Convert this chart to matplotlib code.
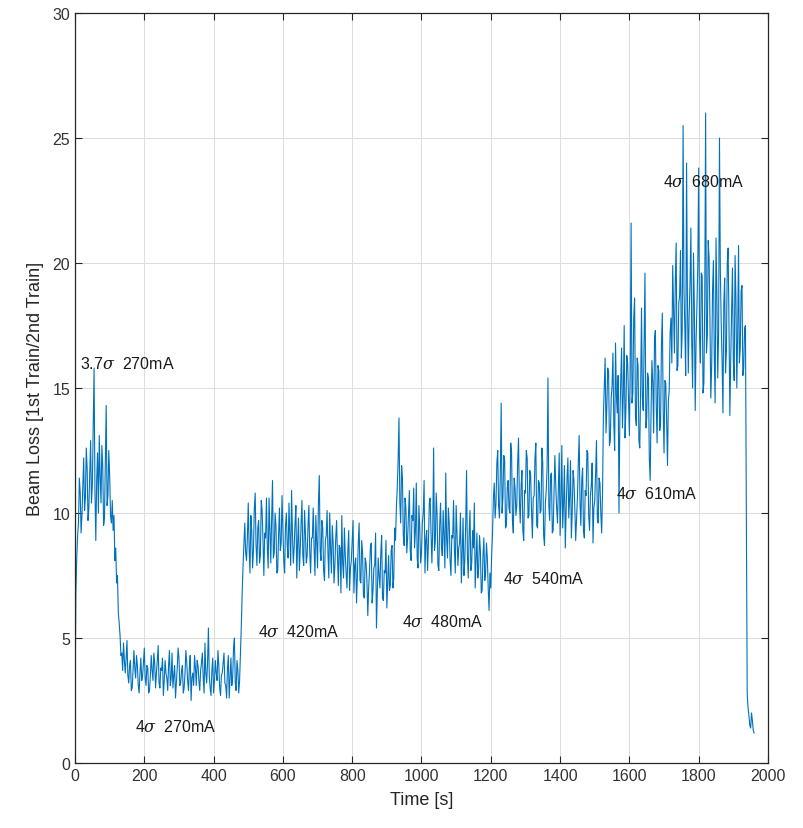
import numpy as np
import matplotlib
matplotlib.use("Agg")
import matplotlib.pyplot as plt

plt.rcParams['font.family'] = ['Liberation Sans', 'DejaVu Sans']
plt.rcParams['mathtext.fontset'] = 'dejavuserif'

# Sample step of the read-off series (seconds) and start time of each segment
t_step = 2.5
seg_t0 = [0, 110, 145, 480, 495, 930, 1200, 1220, 1525, 1720, 1940]

# 3.7 sigma 270 mA
seg_a = [2.3, 6.8, 8.2, 9.1, 9.6, 11.4, 10.8, 9.2, 9.9, 11.0, 12.2, 10.1, 10.6, 12.6,
         11.8, 9.7, 10.2, 11.6, 12.9, 10.4, 11.1, 13.4, 15.8, 10.9, 8.9, 11.3, 12.4,
         10.0, 13.1, 11.5, 10.4, 12.7, 11.9, 9.5, 9.8, 12.1, 14.3, 10.3, 10.7, 12.5,
         11.5, 9.9, 9.6, 10.5]
# drop
seg_b = [9.3, 9.9, 8.1, 8.6, 7.2, 7.5, 6.0, 5.6, 5.1, 4.3, 4.4, 3.7, 4.8, 4.1]
# 4 sigma 270 mA
seg_c = [3.6, 4.2, 4.9, 3.5, 3.2, 3.9, 4.1, 2.9, 3.0, 3.7, 4.5, 3.8, 3.4, 4.3, 3.9, 3.1,
         2.8, 3.6, 4.2, 3.3, 3.5, 4.0, 4.6, 3.4, 3.1, 3.9, 3.8, 2.8, 2.9, 3.5, 4.3, 3.7,
         3.3, 4.4, 4.0, 3.0, 3.6, 4.1, 4.7, 3.2, 3.0, 3.8, 3.7, 4.2, 2.7, 3.3, 4.1, 3.6,
         3.4, 2.9, 3.9, 4.5, 3.1, 3.4, 4.4, 3.0, 3.5, 3.9, 2.6, 3.2, 3.8, 4.6, 4.2, 3.1,
         3.2, 3.7, 3.9, 2.8, 3.0, 3.6, 4.5, 4.0, 3.3, 2.9, 3.8, 4.3, 2.5, 3.4, 3.6, 3.1,
         4.3, 3.8, 3.1, 4.1, 3.9, 3.3, 2.9, 3.7, 4.0, 4.4, 3.4, 2.8, 4.8, 3.6, 3.2, 4.0,
         5.4, 3.5, 3.0, 2.7, 3.7, 4.2, 2.8, 3.3, 4.1, 3.6, 3.3, 4.5, 3.9, 3.0, 2.7, 3.5,
         3.6, 4.0, 4.4, 3.2, 3.1, 2.6, 3.8, 4.3, 2.6, 3.4, 4.2, 3.1, 3.4, 4.6, 5.0, 3.2,
         2.9, 4.1, 3.7, 2.8, 3.3, 4.4]
# jump
seg_d = [5.5, 6.8, 7.9, 8.8, 9.6, 8.4]
# 4 sigma 420 mA
seg_e = [8.1, 9.0, 10.4, 8.6, 7.6, 9.9, 9.3, 7.8, 8.5, 10.2, 10.8, 8.7, 7.9, 9.4, 9.7,
         8.0, 8.3, 10.5, 10.1, 8.9, 7.5, 9.2, 9.0, 10.6, 8.6, 7.8, 10.6, 9.3, 8.0, 9.8,
         11.3, 8.2, 8.4, 10.0, 9.5, 7.6, 7.7, 9.1, 10.2, 8.5, 8.8, 10.7, 9.4, 8.1, 7.6,
         9.5, 10.0, 8.7, 8.2, 10.4, 9.1, 7.9, 10.9, 9.2, 8.0, 8.6, 9.6, 10.3, 7.4, 8.8,
         9.8, 7.7, 8.5, 9.6, 10.5, 8.3, 7.9, 10.1, 9.2, 8.0, 8.3, 9.5, 10.3, 8.4, 7.6,
         9.0, 9.0, 10.2, 8.6, 7.5, 9.9, 8.9, 7.8, 10.4, 11.5, 8.5, 8.1, 9.7, 9.4, 7.7,
         7.3, 8.9, 9.1, 10.1, 8.4, 7.4, 10.0, 8.6, 7.6, 9.5, 8.8, 7.2, 7.9, 9.0, 9.7,
         8.3, 7.1, 8.7, 8.6, 6.8, 9.9, 8.0, 7.4, 9.4, 8.3, 7.6, 7.0, 8.5, 9.3, 6.9, 7.8,
         8.1, 8.9, 9.7, 6.8, 7.9, 8.2, 6.4, 7.5, 8.8, 9.6, 7.3, 7.2, 8.9, 8.4, 6.7, 6.6,
         8.2, 8.0, 7.3, 5.9, 7.0, 7.7, 8.6, 8.8, 6.4, 6.9, 7.8, 7.9, 9.2, 5.4, 6.8, 8.2,
         7.5, 7.0, 8.4, 9.1, 6.6, 6.5, 7.7, 7.6, 8.9, 6.2, 7.2, 8.3, 6.9, 7.1, 8.5, 8.7,
         7.0, 7.4, 9.4, 8.9, 10.2]
# 4 sigma 480 mA
seg_f = [11.0, 12.1, 13.8, 10.4, 9.6, 11.9, 11.4, 9.1, 8.7, 10.6, 10.2, 8.4, 9.0, 10.0,
         10.9, 8.5, 8.1, 9.9, 9.7, 11.0, 8.6, 9.3, 11.2, 8.2, 7.8, 10.3, 9.4, 8.0, 8.4,
         9.6, 10.0, 11.3, 7.6, 8.9, 9.3, 7.7, 8.8, 10.4, 10.6, 9.2, 8.0, 9.4, 12.6, 8.5,
         8.9, 10.8, 9.9, 7.9, 7.7, 9.5, 10.4, 8.7, 8.3, 10.1, 9.1, 7.8, 11.6, 9.0, 8.2,
         10.2, 9.6, 8.1, 7.5, 9.1, 9.0, 10.5, 8.5, 7.6, 10.3, 9.2, 7.9, 8.6, 8.8, 10.0,
         7.2, 8.4, 9.8, 7.5, 8.1, 9.5, 11.7, 8.3, 7.4, 9.2, 10.1, 7.7, 8.0, 9.3, 8.6,
         10.4, 7.0, 8.1, 9.2, 7.4, 7.8, 9.1, 8.5, 6.8, 6.9, 8.3, 9.0, 7.3, 7.6, 8.8, 8.2,
         7.0, 6.1, 7.6]
# jump
seg_g = [7.0, 8.3, 9.2, 10.6, 11.2, 9.8, 10.4, 12.0]
# 4 sigma 540 mA
seg_h = [12.5, 10.3, 9.8, 11.6, 14.4, 10.0, 10.6, 12.3, 12.1, 9.4, 9.5, 11.0, 11.3,
         10.2, 10.0, 12.8, 12.4, 9.7, 9.2, 11.4, 11.0, 9.9, 10.3, 12.0, 13.0, 10.5, 9.6,
         11.1, 11.7, 9.3, 8.9, 10.9, 10.8, 12.5, 12.2, 9.8, 9.9, 11.7, 11.5, 10.1, 9.0,
         10.6, 10.7, 12.2, 12.8, 9.5, 9.4, 11.3, 11.2, 10.0, 10.1, 12.6, 12.0, 9.1, 8.7,
         10.4, 10.9, 11.8, 15.4, 10.3, 9.7, 11.5, 11.6, 9.2, 9.3, 10.8, 12.3, 11.1, 10.2,
         9.6, 11.0, 12.4, 9.1, 10.5, 12.7, 9.4, 10.4, 11.9, 8.6, 10.1, 11.4, 12.2, 9.8,
         10.6, 12.1, 9.0, 10.0, 11.7, 11.3, 10.2, 8.9, 9.7, 10.6, 12.0, 13.1, 10.4, 9.5,
         11.3, 11.8, 9.3, 9.0, 10.9, 10.7, 12.5, 12.4, 9.9, 9.3, 10.7, 11.1, 12.0, 8.8,
         10.2, 10.5, 11.6, 12.9, 9.8, 9.6, 11.4, 11.2, 10.0, 9.2, 10.8]
# 4 sigma 610 mA
seg_i = [13.9, 15.0, 16.2, 13.2, 14.3, 15.8, 15.6, 12.7, 12.9, 14.6, 15.1, 16.4, 13.6,
         12.5, 16.8, 14.7, 14.0, 15.5, 10.0, 13.8, 15.3, 16.6, 13.4, 14.8, 17.5, 13.0,
         14.2, 16.3, 16.0, 14.5, 13.1, 15.7, 21.6, 14.4, 14.8, 17.8, 18.6, 13.9, 13.5,
         16.2, 15.9, 12.9, 12.6, 15.0, 18.2, 14.6, 14.1, 16.8, 19.6, 13.4, 13.8, 15.6,
         15.4, 12.2, 11.3, 14.0, 16.1, 15.2, 13.2, 17.0, 17.3, 14.3, 12.8, 15.9, 15.7,
         13.3, 13.6, 16.7, 18.0, 14.2, 12.4, 15.3, 15.2, 13.7, 11.9, 14.5, 14.9, 17.2]
# 4 sigma 680 mA
seg_j = [17.8, 16.0, 19.9, 18.1, 16.4, 19.3, 20.8, 15.7, 15.9, 18.4, 18.7, 20.5, 16.2,
         17.3, 25.5, 19.0, 17.4, 15.5, 24.0, 18.6, 15.6, 17.9, 19.2, 21.4, 16.8, 15.0,
         20.4, 18.2, 14.1, 16.9, 18.3, 20.0, 23.8, 17.0, 16.0, 19.6, 19.5, 14.8, 15.2,
         18.5, 26.0, 16.4, 17.1, 20.9, 20.2, 17.7, 14.6, 15.9, 18.9, 20.1, 16.3, 14.4,
         21.0, 18.8, 15.4, 17.2, 25.0, 19.7, 17.6, 16.1, 14.0, 18.4, 19.4, 15.6, 16.5,
         20.0, 20.6, 17.5, 13.9, 16.2, 18.0, 19.8, 16.1, 15.3, 20.3, 18.6, 15.0, 17.1,
         20.7, 16.0, 16.6, 18.9, 19.1, 15.5, 15.8, 17.4, 17.5]
# beam off
seg_k = [2.8, 2.2, 1.9, 1.5, 1.4, 2.0, 1.7, 1.3, 1.2]

segments = [seg_a, seg_b, seg_c, seg_d, seg_e, seg_f, seg_g, seg_h, seg_i, seg_j, seg_k]
loss = np.concatenate([np.array(s, dtype=float) for s in segments])
time = np.concatenate([t0 + t_step * np.arange(len(s)) for t0, s in zip(seg_t0, segments)])

ann_text = [r"3.7$\sigma$  270mA", r"4$\sigma$  270mA", r"4$\sigma$  420mA",
            r"4$\sigma$  480mA", r"4$\sigma$  540mA", r"4$\sigma$  610mA",
            r"4$\sigma$  680mA"]
ann_t = [14, 173, 528, 944, 1235, 1561, 1697]
ann_v = [16.0, 1.5, 5.3, 5.7, 7.4, 10.8, 23.3]

x_ticks = [0, 200, 400, 600, 800, 1000, 1200, 1400, 1600, 1800, 2000]
y_ticks = [0, 5, 10, 15, 20, 25, 30]

fig = plt.figure(figsize=(8.04, 8.29), dpi=100)
ax = fig.add_axes([0.0933, 0.0784, 0.8619, 0.9047])
ax.plot(time, loss, color='#0072BD', lw=0.8)

for s, tx, vy in zip(ann_text, ann_t, ann_v):
    ax.text(tx, vy, s, fontsize=11.5, color='#1a1a1a', ha='left', va='center')

ax.set_xlim(0, 2000)
ax.set_ylim(0, 30)
ax.set_xticks(x_ticks)
ax.set_yticks(y_ticks)
ax.grid(True, color='#dcdcdc', lw=0.7)
ax.set_axisbelow(True)
ax.tick_params(direction='in', length=5, width=0.8, top=True, right=True,
               labelsize=11.5, colors='#262626', labelcolor='#333333')
for sp in ax.spines.values():
    sp.set_color('#262626')
    sp.set_linewidth(0.9)
ax.set_xlabel('Time [s]', fontsize=13, color='#262626', labelpad=6)
ax.set_ylabel('Beam Loss [1st Train/2nd Train]', fontsize=13, color='#262626', labelpad=6)

fig.savefig('out.png', dpi=100)
